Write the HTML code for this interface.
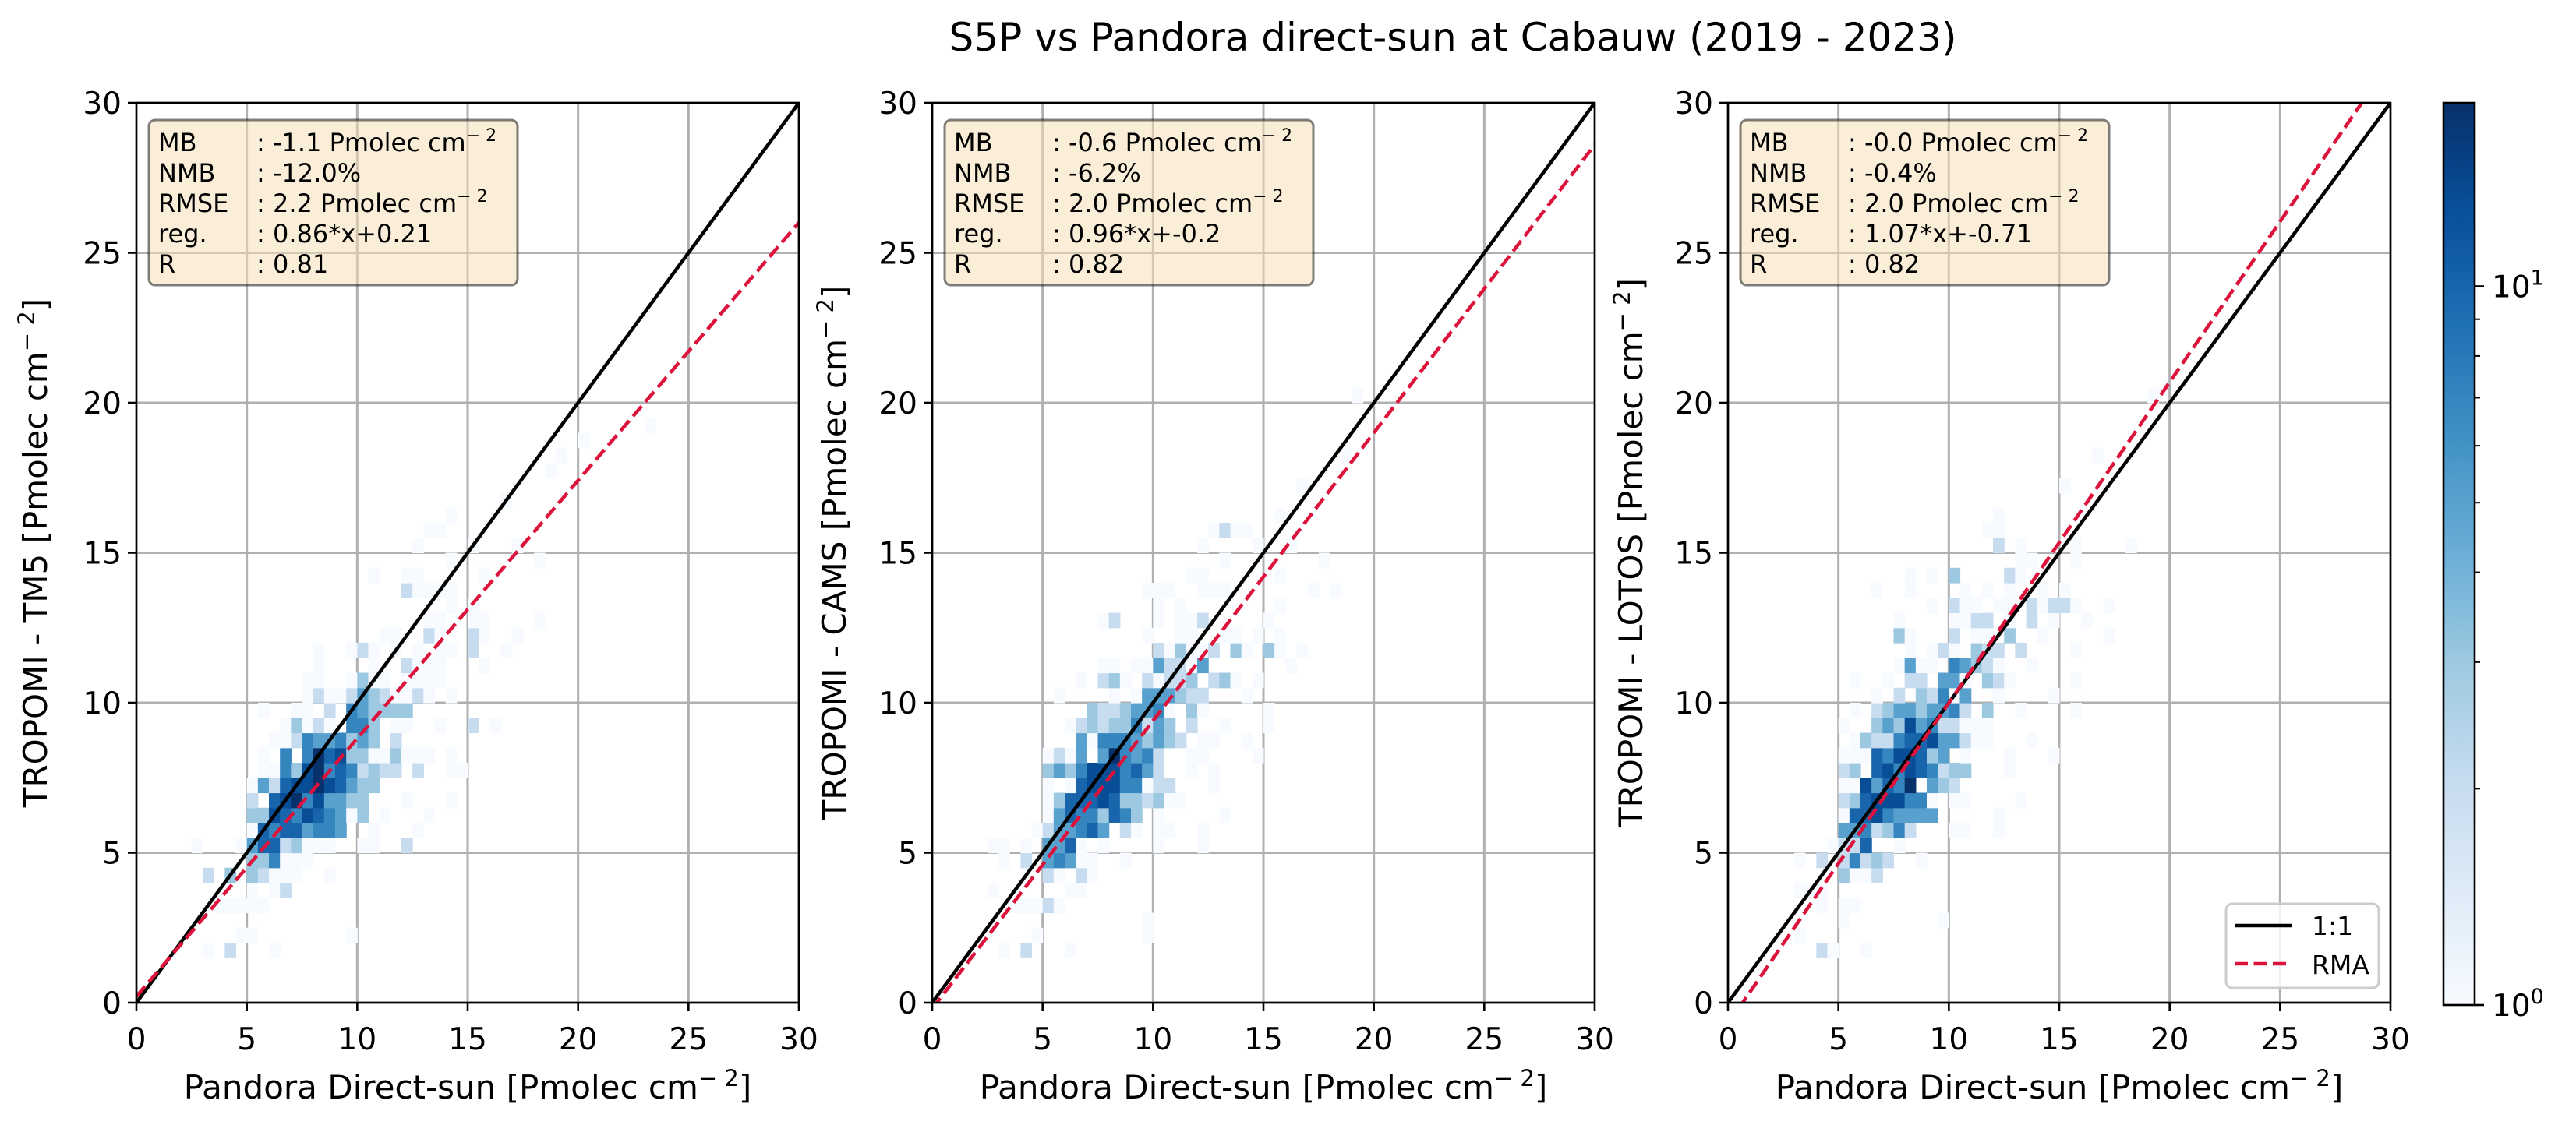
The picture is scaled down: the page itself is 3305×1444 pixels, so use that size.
<!DOCTYPE html>
<html><head><meta charset="utf-8"><style>
html,body{margin:0;padding:0;background:#fff;}
svg{display:block;font-family:"DejaVu Sans","Liberation Sans",sans-serif;}
</style></head><body>
<svg id="fig" width="3305" height="1444" viewBox="0 0 3305 1444" xmlns="http://www.w3.org/2000/svg">
<rect x="0" y="0" width="3305" height="1444" fill="#fff"/>
<text x="1864" y="65" font-size="50" text-anchor="middle" fill="#000">S5P vs Pandora direct-sun at Cabauw (2019 - 2023)</text>
</svg>
<script>
// ---------- data ----------
const axisMax = 30;
const tickValues = [0, 5, 10, 15, 20, 25, 30];
const binSize = 0.5;
const vmax = 18;
const yLabels = ["TROPOMI - TM5 [Pmolec cm", "TROPOMI - CAMS [Pmolec cm", "TROPOMI - LOTOS [Pmolec cm"];
const slopes = [0.86, 0.96, 1.07];
const intercepts = [0.21, -0.2, -0.71];
const statMB = ["-1.1 Pmolec cm", "-0.6 Pmolec cm", "-0.0 Pmolec cm"];
const statNMB = ["-12.0%", "-6.2%", "-0.4%"];
const statRMSE = ["2.2 Pmolec cm", "2.0 Pmolec cm", "2.0 Pmolec cm"];
const statReg = ["0.86*x+0.21", "0.96*x+-0.2", "1.07*x+-0.71"];
const statR = ["0.81", "0.82", "0.82"];
// cells: [row(ybin), col(xbin), count]
const cellsP1 = [
[3,6,1],[3,8,2],[3,12,1],[4,9,1],[4,10,1],[4,19,1],[6,7,1],[6,8,1],[6,9,1],[6,10,1],[6,11,1],
[7,10,1],[7,12,1],[7,13,2],[8,6,2],[8,8,3],[8,10,3],[8,11,2],[8,12,1],[8,13,1],[8,14,1],[8,17,1],
[9,10,3],[9,11,3],[9,12,7],[9,13,1],[9,14,1],[9,15,1],
[10,5,1],[10,9,1],[10,10,5],[10,11,10],[10,12,10],[10,13,2],[10,14,3],[10,15,1],[10,16,1],[10,17,1],[10,20,1],[10,21,1],[10,24,2],
[11,10,1],[11,11,10],[11,12,7],[11,13,10],[11,14,10],[11,15,5],[11,16,7],[11,17,7],[11,18,5],[11,21,1],[11,25,1],
[12,10,3],[12,11,3],[12,12,13],[12,13,10],[12,14,7],[12,15,13],[12,16,10],[12,17,7],[12,18,5],[12,19,1],[12,20,3],[12,22,1],[12,26,1],
[13,10,2],[13,12,10],[13,13,13],[13,14,18],[13,15,7],[13,16,13],[13,17,5],[13,18,5],[13,19,3],[13,20,3],[13,24,1],[13,28,1],
[14,10,1],[14,11,5],[14,12,2],[14,13,10],[14,14,13],[14,15,13],[14,16,18],[14,17,13],[14,18,10],[14,19,5],[14,20,3],[14,21,3],
[15,11,1],[15,12,1],[15,13,7],[15,14,3],[15,15,13],[15,16,18],[15,17,7],[15,18,10],[15,19,7],[15,20,2],[15,21,3],[15,22,2],[15,23,2],[15,25,2],[15,28,1],[15,29,1],
[16,11,1],[16,13,7],[16,15,7],[16,16,18],[16,17,10],[16,18,13],[16,19,3],[16,20,3],[16,21,1],[16,22,1],[16,23,3],[16,24,1],[16,25,1],[16,26,1],[16,28,1],
[17,12,1],[17,13,1],[17,14,2],[17,15,7],[17,16,5],[17,17,5],[17,18,7],[17,19,3],[17,20,5],[17,21,3],[17,23,2],
[18,13,1],[18,14,3],[18,15,1],[18,16,2],[18,17,1],[18,19,7],[18,20,7],[18,21,3],[18,23,1],[18,24,1],[18,27,1],[18,30,2],[18,32,1],
[19,11,1],[19,14,1],[19,15,1],[19,17,2],[19,19,7],[19,20,5],[19,21,3],[19,22,3],[19,23,3],[19,24,3],
[20,15,1],[20,16,2],[20,17,1],[20,18,1],[20,19,2],[20,20,5],[20,21,3],[20,22,2],[20,23,1],[20,24,1],[20,25,2],[20,26,1],[20,28,1],
[21,15,1],[21,16,1],[21,19,1],[21,20,3],[21,21,1],[21,22,1],[21,24,1],[21,25,1],[21,26,1],[21,27,1],
[22,16,1],[22,21,1],[22,24,2],[22,25,1],[22,26,1],[22,27,1],[22,31,1],
[23,16,1],[23,19,1],[23,20,2],[23,21,1],[23,23,1],[23,25,1],[23,27,1],[23,28,1],[23,30,2],[23,33,1],
[24,22,1],[24,23,1],[24,26,2],[24,27,1],[24,30,2],[24,31,1],[24,34,1],
[25,26,1],[25,27,1],[25,30,1],[25,31,1],[25,36,1],[26,28,1],[26,30,1],
[27,24,2],[27,25,1],[27,26,1],[27,27,1],[27,28,1],[28,21,1],[28,24,1],[28,25,1],[28,31,1],
[29,28,1],[29,36,1],[30,25,1],[30,30,1],[30,34,1],[31,26,1],[31,27,1],[32,28,1],
[33,33,1],[35,37,1],[36,38,1],[37,40,1],[38,46,1]
];
const cellsP2 = [
[3,6,1],[3,8,2],[3,12,1],[4,9,1],[4,19,1],[5,19,1],[6,7,1],[6,8,1],[6,9,1],[6,10,2],[6,11,1],
[7,5,1],[7,12,1],[7,13,1],[8,10,2],[8,11,1],[8,13,2],[8,14,1],
[9,6,1],[9,8,2],[9,10,5],[9,11,7],[9,12,5],[9,13,1],[9,14,1],[9,17,1],
[10,5,1],[10,6,1],[10,8,1],[10,10,5],[10,11,5],[10,12,10],[10,13,1],[10,15,1],[10,20,1],[10,24,1],
[11,9,1],[11,10,2],[11,11,5],[11,12,5],[11,13,7],[11,14,10],[11,15,5],[11,17,2],[11,18,1],[11,20,1],[11,21,1],[11,24,1],
[12,10,1],[12,11,5],[12,12,10],[12,13,7],[12,14,7],[12,15,3],[12,16,10],[12,17,7],[12,18,3],[12,20,1],[12,26,1],
[13,10,1],[13,11,3],[13,12,10],[13,13,10],[13,14,10],[13,15,13],[13,16,10],[13,17,3],[13,18,3],[13,19,2],[13,20,3],[13,21,1],[13,22,1],
[14,10,1],[14,12,1],[14,13,10],[14,14,13],[14,15,13],[14,16,13],[14,17,7],[14,18,7],[14,19,1],[14,20,2],[14,21,2],[14,25,1],
[15,10,3],[15,11,5],[15,12,3],[15,13,7],[15,14,13],[15,15,13],[15,16,13],[15,17,7],[15,18,10],[15,19,5],[15,20,2],[15,23,1],[15,25,1],
[16,10,1],[16,11,2],[16,12,1],[16,13,5],[16,15,5],[16,16,18],[16,17,7],[16,18,5],[16,19,7],[16,20,2],[16,23,1],[16,24,1],[16,29,1],
[17,13,5],[17,14,1],[17,15,7],[17,16,7],[17,17,7],[17,18,5],[17,19,3],[17,20,5],[17,21,3],[17,22,2],[17,24,1],[17,25,1],[17,28,1],
[18,12,1],[18,13,2],[18,14,3],[18,15,2],[18,16,3],[18,17,3],[18,18,7],[18,19,2],[18,20,5],[18,21,3],[18,23,2],[18,26,1],[18,30,1],
[19,14,3],[19,15,2],[19,16,2],[19,17,3],[19,18,5],[19,19,5],[19,20,7],[19,21,1],[19,23,3],[19,24,1],[19,30,1],
[20,11,1],[20,16,1],[20,18,1],[20,19,5],[20,20,5],[20,21,5],[20,22,3],[20,23,2],[20,24,2],[20,28,1],
[21,13,1],[21,15,2],[21,16,3],[21,17,1],[21,19,2],[21,20,1],[21,21,2],[21,22,2],[21,23,3],[21,25,2],[21,26,3],[21,27,1],[21,29,1],
[22,15,1],[22,16,1],[22,18,1],[22,19,1],[22,20,5],[22,21,2],[22,22,2],[22,23,1],[22,24,5],[22,32,1],
[23,20,2],[23,21,1],[23,22,3],[23,23,1],[23,24,1],[23,25,2],[23,27,3],[23,28,1],[23,30,3],[23,31,1],[23,33,1],
[24,19,1],[24,22,1],[24,23,1],[24,26,1],[24,27,1],[24,29,1],[24,31,1],
[25,15,1],[25,16,2],[25,20,1],[25,22,1],[25,23,1],[25,24,2],[25,30,1],
[26,20,1],[26,22,1],[26,31,1],[27,19,1],[27,20,1],[27,21,1],[27,24,1],[27,25,1],[27,26,1],[27,34,1],[27,36,1],
[28,23,1],[28,24,1],[28,31,1],[29,26,1],[29,35,1],[30,24,1],[30,29,1],[30,32,1],
[31,25,1],[31,26,2],[31,27,1],[31,28,1],[32,31,1],[34,33,1],[36,37,1],[40,38,1]
];
const cellsP3 = [
[3,8,2],[3,9,1],[3,12,1],[4,6,1],[5,10,1],[5,19,1],[6,8,1],[6,10,1],[6,11,1],[7,6,1],[7,7,1],[7,8,1],
[8,10,3],[8,11,1],[8,12,1],[8,13,2],
[9,6,1],[9,8,2],[9,10,2],[9,11,7],[9,12,2],[9,13,3],[9,14,2],[9,17,1],
[10,9,1],[10,10,2],[10,11,2],[10,12,10],[10,15,1],
[11,10,5],[11,11,5],[11,12,7],[11,13,2],[11,14,3],[11,15,7],[11,16,2],[11,20,1],[11,21,1],[11,24,1],
[12,10,1],[12,11,10],[12,12,10],[12,13,13],[12,14,7],[12,15,5],[12,16,5],[12,17,5],[12,18,5],[12,24,1],
[13,10,2],[13,11,3],[13,12,10],[13,13,13],[13,14,13],[13,15,13],[13,16,7],[13,17,7],[13,18,1],[13,20,1],[13,21,1],[13,26,1],
[14,10,1],[14,11,1],[14,12,13],[14,13,5],[14,14,10],[14,15,7],[14,16,18],[14,18,5],[14,19,3],[14,20,2],
[15,10,2],[15,11,3],[15,13,10],[15,14,13],[15,15,7],[15,16,13],[15,17,10],[15,18,7],[15,19,2],[15,20,3],[15,21,3],[15,25,1],
[16,10,1],[16,11,1],[16,12,1],[16,13,10],[16,14,7],[16,15,13],[16,16,13],[16,17,10],[16,18,3],[16,19,5],[16,21,1],[16,25,1],[16,29,1],
[17,11,1],[17,12,3],[17,13,2],[17,14,2],[17,15,7],[17,16,10],[17,17,10],[17,18,13],[17,19,5],[17,20,5],[17,21,2],[17,22,1],[17,23,1],[17,27,1],
[18,10,1],[18,13,3],[18,14,5],[18,15,3],[18,16,13],[18,17,5],[18,18,7],[18,19,2],[18,20,2],[18,21,1],[18,22,1],[18,23,1],
[19,11,1],[19,13,2],[19,14,3],[19,15,5],[19,16,5],[19,17,3],[19,18,5],[19,19,5],[19,20,7],[19,21,2],[19,23,3],[19,26,1],[19,31,1],
[20,13,1],[20,15,2],[20,17,3],[20,18,2],[20,19,7],[20,20,1],[20,21,5],[20,24,1],[20,29,1],
[21,11,1],[21,14,1],[21,16,2],[21,17,2],[21,19,5],[21,20,5],[21,21,1],[21,23,3],[21,24,2],[21,25,1],[21,31,1],
[22,15,1],[22,16,5],[22,17,1],[22,18,1],[22,20,7],[22,21,5],[22,22,3],[22,23,2],[22,24,1],[22,27,1],
[23,16,1],[23,18,1],[23,19,2],[23,20,1],[23,22,3],[23,23,2],[23,24,2],[23,26,2],[23,31,1],
[24,15,3],[24,16,1],[24,20,2],[24,22,1],[24,23,1],[24,25,3],[24,28,1],[24,34,1],
[25,15,1],[25,20,1],[25,21,1],[25,22,2],[25,23,2],[25,25,1],[25,27,2],[25,29,1],[25,32,1],
[26,18,1],[26,20,2],[26,21,1],[26,22,1],[26,24,1],[26,25,1],[26,27,2],[26,28,1],[26,29,2],[26,30,2],[26,31,1],[26,34,1],
[27,13,1],[27,16,1],[27,21,1],[27,23,1],[27,25,1],[27,28,1],[27,30,1],
[28,16,1],[28,18,1],[28,20,3],[28,25,2],[28,26,1],
[29,26,1],[29,27,1],[29,31,1],[30,24,2],[30,26,1],[30,31,1],[30,36,1],[31,23,1],[31,24,1],[32,24,1],
[34,30,1],[36,33,1],[40,38,1]
];
const allCells = [cellsP1, cellsP2, cellsP3];

// ---------- layout ----------
const NS = "http://www.w3.org/2000/svg";
const svg = document.getElementById("fig");
const panelLeft = [175, 1196, 2217];
const panelW = 850, top0 = 132, bottom0 = 1287;
const blues = ["#f7fbff","#deebf7","#c6dbef","#9ecae1","#6baed6","#4292c6","#2171b5","#08519c","#08306b"];
function hex(c){return [1,3,5].map(i=>parseInt(c.substr(i,2),16));}
function cmap(t){t=Math.max(0,Math.min(1,t));const p=t*8;const i=Math.min(7,Math.floor(p));const f=p-i;const a=hex(blues[i]),b=hex(blues[i+1]);return "rgb("+a.map((v,k)=>Math.round(v+(b[k]-v)*f)).join(",")+")";}
function el(tag, attrs, parent){const e=document.createElementNS(NS,tag);for(const k in attrs)e.setAttribute(k,attrs[k]);(parent||svg).appendChild(e);return e;}

allCells.forEach((cells, p) => {
  const L = panelLeft[p];
  const xs = v => L + v / axisMax * panelW;
  const ys = v => bottom0 - v / axisMax * (bottom0 - top0);
  const g = el("g", {});
  
  
  tickValues.forEach(t => {
    const gx = el("line", {x1: xs(t), x2: xs(t), y1: top0, y2: bottom0, stroke: "#b0b0b0", "stroke-width": 3}, g);
    
    
    const gy = el("line", {x1: L, x2: L + panelW, y1: ys(t), y2: ys(t), stroke: "#b0b0b0", "stroke-width": 3}, g);
    
    
  });
  cells.forEach(c => {
    const [row, col, count] = c;
    const x0 = xs(col * binSize), x1 = xs((col + 1) * binSize);
    const y0 = ys((row + 1) * binSize), y1 = ys(row * binSize);
    const r = el("rect", {x: x0, y: y0, width: x1 - x0 + 0.6, height: y1 - y0 + 0.6, fill: cmap(Math.log(count) / Math.log(vmax))}, g);
    
    
  });
  const cid = "clip" + p;
  const cp = el("clipPath", {id: cid}, g);
  el("rect", {x: L, y: top0, width: panelW, height: bottom0 - top0}, cp);
  const one = el("line", {x1: xs(0), y1: ys(0), x2: xs(axisMax), y2: ys(axisMax), stroke: "#000", "stroke-width": 4.5, "clip-path": "url(#" + cid + ")"}, g);
  
  
  const rma = el("line", {x1: xs(0), y1: ys(intercepts[p]), x2: xs(axisMax), y2: ys(slopes[p] * axisMax + intercepts[p]), stroke: "#dc143c", "stroke-width": 4.5, "stroke-dasharray": "17,7.5", "clip-path": "url(#" + cid + ")"}, g);
  
  
  const sp = el("rect", {x: L, y: top0, width: panelW, height: bottom0 - top0, fill: "none", stroke: "#000", "stroke-width": 2.6}, g);
  
  
  tickValues.forEach(t => {
    el("line", {x1: xs(t), x2: xs(t), y1: bottom0, y2: bottom0 + 11, stroke: "#000", "stroke-width": 2.6}, g);
    el("line", {x1: L - 11, x2: L, y1: ys(t), y2: ys(t), stroke: "#000", "stroke-width": 2.6}, g);
    const tx = el("text", {x: xs(t), y: 1347, "font-size": 39, "text-anchor": "middle"}, g);
    tx.textContent = t;
    
    
    const ty = el("text", {x: L - 19, y: ys(t) + 14, "font-size": 39, "text-anchor": "end"}, g);
    ty.textContent = t;
    
    
  });
  const xl = el("text", {x: L + panelW / 2, y: 1410, "font-size": 42, "text-anchor": "middle"}, g);
  xl.innerHTML = 'Pandora Direct-sun [Pmolec cm<tspan dy="-16" font-size="29">\u2212 2</tspan><tspan dy="16">]</tspan>';
  
  
  const yc = [46, 1071, 2093][p] + 14, ym = (top0 + bottom0) / 2;
  const yl = el("text", {x: yc, y: ym, "font-size": 42, "text-anchor": "middle", transform: "rotate(-90 " + yc + " " + ym + ")"}, g);
  yl.innerHTML = yLabels[p] + '<tspan dy="-16" font-size="29">\u2212 2</tspan><tspan dy="16">]</tspan>';
  
  
  const bx = L + 16;
  const box = el("rect", {x: bx, y: 154, width: 473, height: 212, rx: 8, fill: "#f5deb3", "fill-opacity": 0.5, stroke: "#000", "stroke-opacity": 0.5, "stroke-width": 3}, g);
  
  
  const names = ["MB", "NMB", "RMSE", "reg.", "R"];
  const vals = [statMB[p], statNMB[p], statRMSE[p], statReg[p], statR[p]];
  names.forEach((n, i) => {
    const yy = 194 + i * 39;
    const t1 = el("text", {x: bx + 12, y: yy, "font-size": 32}, g);
    t1.textContent = n;
    
    
    const t2 = el("text", {x: bx + 138, y: yy, "font-size": 32}, g);
    if (i === 0 || i === 2) t2.innerHTML = ": " + vals[i] + '<tspan dy="-13" font-size="22">\u2212 2</tspan>';
    else t2.textContent = ": " + vals[i];
    
    
  });
});

// legend (panel 3)
const lg = el("g", {});


el("rect", {x: 2856, y: 1160, width: 196, height: 108, rx: 8, fill: "#fff", "fill-opacity": 0.8, stroke: "#ccc", "stroke-width": 3}, lg);
el("line", {x1: 2867, x2: 2940, y1: 1188, y2: 1188, stroke: "#000", "stroke-width": 4.5}, lg);
el("line", {x1: 2867, x2: 2940, y1: 1237, y2: 1237, stroke: "#dc143c", "stroke-width": 4.5, "stroke-dasharray": "17,7.5"}, lg);
const l1 = el("text", {x: 2966, y: 1200, "font-size": 33}, lg); l1.textContent = "1:1";


const l2 = el("text", {x: 2966, y: 1250, "font-size": 33}, lg); l2.textContent = "RMA";



// colorbar
const cb = el("g", {});


const defs = el("defs", {}, cb);
const grad = el("linearGradient", {id: "cbg", x1: 0, y1: 1, x2: 0, y2: 0}, defs);
blues.forEach((c, i) => el("stop", {offset: i / 8, "stop-color": c}, grad));
const cbT = 132, cbB = 1290, cbL = 3135, cbR = 3175;
el("rect", {x: cbL, y: cbT, width: cbR - cbL, height: cbB - cbT, fill: "url(#cbg)", stroke: "#000", "stroke-width": 2.6}, cb);
const cy = v => cbB - Math.log(v) / Math.log(vmax) * (cbB - cbT);
[2,3,4,5,6,7,8,9].forEach(v => el("line", {x1: cbR, x2: cbR + 7, y1: cy(v), y2: cy(v), stroke: "#000", "stroke-width": 2}, cb));
[1, 10].forEach((v, i) => {
  el("line", {x1: cbR, x2: cbR + 12, y1: cy(v), y2: cy(v), stroke: "#000", "stroke-width": 2.6}, cb);
  const t = el("text", {x: cbR + 22, y: cy(v) + 14, "font-size": 39}, cb);
  t.innerHTML = '10<tspan dy="-16" font-size="27">' + i + '</tspan>';
  
  
});
</script>
</body></html>
